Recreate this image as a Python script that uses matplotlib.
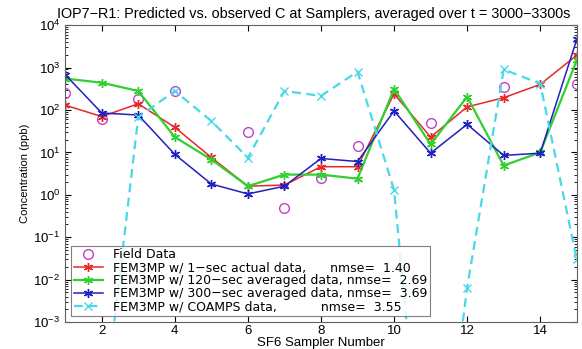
import numpy as np
import matplotlib
matplotlib.use('Agg')
import matplotlib.pyplot as plt
from matplotlib.ticker import LogLocator, NullFormatter

plt.rcParams['font.family'] = ['Liberation Sans', 'DejaVu Sans']

# sampler numbers and concentrations (ppb)
samplers = np.arange(1, 16)
field = [250, 61, 180, 280, np.nan, 30, 0.5, 2.5, 14, np.nan, 50, np.nan, 350, np.nan, 420]
sec1 = [130, 70, 140, 39, 7.6, 1.6, 1.7, 4.6, 4.6, 240, 23, 118, 195, 400, 1950]
sec120 = [550, 440, 280, 23, 6.8, 1.6, 3.0, 3.0, 2.4, 316, 15.5, 205, 4.9, 10, 1480]
sec300 = [680, 85, 76, 9, 1.8, 1.05, 1.6, 7.2, 6.1, 95, 9.6, 46, 8.5, 9.6, 4600]
coamps = [np.nan, 3e-6, 68, 280, 55, 7.5, 280, 215, 800, 1.3, 1e-9, 0.0065, 900, 420, 0.03]

labels = ['Field Data',
          'FEM3MP w/ 1\u2212sec actual data,      nmse=  1.40',
          'FEM3MP w/ 120\u2212sec averaged data, nmse=  2.69',
          'FEM3MP w/ 300\u2212sec averaged data, nmse=  3.69',
          'FEM3MP w/ COAMPS data,           nmse=  3.55']

star = (6, 2, 0)

fig = plt.figure(figsize=(5.82, 3.49), dpi=100)
ax = fig.add_axes([0.112, 0.077, 0.879, 0.851])

ax.plot(samplers, field, 'o', color='#c040c8', mfc='none', ms=7, mew=1.0, ls='none', label=labels[0])
ax.plot(samplers, sec1, color='#e82828', marker=star, ms=6.5, lw=1.1, label=labels[1])
ax.plot(samplers, sec120, color='#30d030', marker=star, ms=6.5, lw=1.6, label=labels[2])
ax.plot(samplers, sec300, color='#2020c0', marker=star, ms=6.5, lw=1.1, label=labels[3])
ax.plot(samplers, coamps, color='#48d8e8', marker='x', ms=6, lw=1.6, ls=(0, (4, 2.5)), label=labels[4])

ax.set_yscale('log')
ax.set_xlim(1, 15)
ax.set_ylim(1e-3, 1e4)
ax.set_xticks([2, 4, 6, 8, 10, 12, 14])
ax.yaxis.set_major_locator(LogLocator(base=10, numticks=10))
ax.yaxis.set_minor_locator(LogLocator(base=10, subs=np.arange(2, 10), numticks=20))
ax.yaxis.set_minor_formatter(NullFormatter())
ax.tick_params(which='both', direction='in', top=True, right=True, labelsize=9.5)
ax.tick_params(axis='x', pad=2)
ax.tick_params(which='major', length=4)
ax.tick_params(which='minor', length=2)
for s in ax.spines.values():
    s.set_color('#606060')

ax.set_xlabel('SF6 Sampler Number', fontsize=9.5, labelpad=0)
ax.set_ylabel('Concentration (ppb)', fontsize=8, labelpad=2)
fig.text(0.098, 0.96, 'IOP7\u2212R1: Predicted vs. observed C at Samplers, averaged over t = 3000\u22123300s',
         fontsize=10.4, ha='left', va='center')

leg = ax.legend(loc='lower left', prop={'family': 'DejaVu Sans', 'size': 9}, frameon=True,
                fancybox=False, edgecolor='#606060', borderpad=0.2, labelspacing=0.0,
                handlelength=2.3, handletextpad=0.8, borderaxespad=0.5)
leg.get_frame().set_linewidth(0.8)

fig.savefig('out.png', dpi=100)
